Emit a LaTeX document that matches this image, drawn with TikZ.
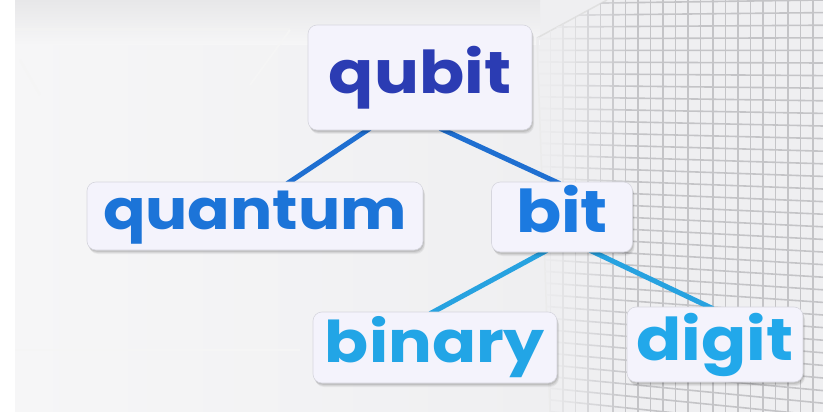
\documentclass[tikz,border=0pt]{standalone}
\usepackage{fontspec}
\newfontfamily\pop{Poppins}[FakeStretch=1.13]

\definecolor{bgbase}{HTML}{EFEFF1}
\definecolor{bgleft}{HTML}{F6F6F7}
\definecolor{bgtop}{HTML}{E7E7E9}
\definecolor{gridline}{HTML}{C4C4C7}
\definecolor{boxfill}{HTML}{F4F3FC}
\definecolor{boxline}{HTML}{D6D6DE}
\definecolor{cQubit}{HTML}{2B3CB3}
\definecolor{cQuantum}{HTML}{1C74D8}
\definecolor{cBit}{HTML}{1C7AE0}
\definecolor{cBinary}{HTML}{22A5E6}
\definecolor{cDigit}{HTML}{22A8EA}
\definecolor{linkTop}{HTML}{1F6FD1}
\definecolor{linkLow}{HTML}{27A2E0}

\pgfdeclarelayer{backdrop}
\pgfdeclarelayer{links}
\pgfsetlayers{backdrop,links,main}

\tikzset{
  wordbox/.style={draw=boxline, line width=0.6pt, fill=boxfill,
    rounded corners=9pt, inner sep=0pt,
    preaction={draw=none, fill=black, fill opacity=0.05,
      transform canvas={shift={(2pt,-4pt)}}},
    preaction={draw=none, fill=black, fill opacity=0.07,
      transform canvas={shift={(1.5pt,-3pt)}}},
    preaction={draw=none, fill=black, fill opacity=0.09,
      transform canvas={shift={(0.8pt,-1.8pt)}}}},
  wordfont/.style={font=\pop\bfseries\fontsize{#1}{#1}\selectfont},
  linktop/.style={draw=linkTop, line width=5pt},
  linklow/.style={draw=linkLow, line width=5pt},
}

\begin{document}
\begin{tikzpicture}[x=1pt,y=-1pt]
\useasboundingbox (0,0) rectangle (823,412);

% ---------- backdrop: a bright room with a gridded wall on the right
\begin{pgfonlayer}{backdrop}
  \fill[white] (0,0) rectangle (823,412);
  \fill[bgbase] (15,0) rectangle (823,412);
  \shade[left color=bgleft, right color=bgbase] (15,40) rectangle (540,412);
  \shade[top color=bgtop, bottom color=bgleft] (15,0) rectangle (540,45);
  % ceiling edges
  \draw[black!5, line width=3pt] (15,30) -- (290,30);
  \draw[black!4, line width=2pt] (20,60) -- (40,95);
  \draw[black!4, line width=2pt] (290,30) -- (250,85);
  \draw[black!4, line width=2pt] (15,350) -- (300,350);
  % wall corner
  \draw[black!12, line width=1.5pt] (537,38) -- (607,0);
  \draw[black!8, line width=1.5pt] (537,38) -- (550,412);
  % perspective grid on the wall, fading in from the corner
  \begin{scope}
    \clip (537,38) -- (607,0) -- (823,0) -- (823,412) -- (550,412) -- cycle;
    \foreach \i in {0,...,23} {
      \pgfmathsetmacro\xa{538+12.5*\i}
      \pgfmathsetmacro\xb{\xa+12.5}
      \pgfmathsetmacro\fa{(\xa+2800)/3623}
      \pgfmathsetmacro\fb{(\xb+2800)/3623}
      \pgfmathsetmacro\p{min(100,max(8,(\xa-538)/90*100))}
      \draw[gridline!\p!bgbase, line width=1.6pt] (\xa,0) -- (\xa,412);
      \foreach \j in {-4,...,36}
        \draw[gridline!\p!bgbase, line width=1.6pt]
          (\xa,{50+(12.6*\j-50)*\fa}) -- (\xb,{50+(12.6*\j-50)*\fb});
    }
  \end{scope}
\end{pgfonlayer}

% ---------- word boxes
\node[wordbox, wordfont=59, text=cQubit, minimum width=224pt, minimum height=105pt]
  (qubit) at (420,77.5) {\vphantom{bq}qubit};
\node[wordbox, wordfont=55.5, text=cQuantum, minimum width=336pt, minimum height=68pt]
  (quantum) at (255,216) {\vphantom{bq}quantum};
\node[wordbox, wordfont=59, text=cBit, minimum width=141pt, minimum height=70pt]
  (bit) at (562,217) {\vphantom{bq}bit};
\node[wordbox, wordfont=57.5, text=cBinary, minimum width=244pt, minimum height=71pt]
  (binary) at (435,347.5) {\vphantom{bq}binary};
\node[wordbox, wordfont=59, text=cDigit, minimum width=176pt, minimum height=75pt]
  (digit) at (715,344.5) {\vphantom{bq}digit};

% ---------- connectors
\begin{pgfonlayer}{links}
  \draw[linktop] ([xshift=-50pt,yshift=2pt]qubit.south) -- ([xshift=32pt,yshift=-2pt]quantum.north);
  \draw[linktop] ([xshift=20pt,yshift=2pt]qubit.south) -- ([xshift=-2pt,yshift=-2pt]bit.north);
  \draw[linklow] ([xshift=-15pt,yshift=2pt]bit.south) -- ([xshift=-5pt,yshift=-2pt]binary.north);
  \draw[linklow] ([xshift=28pt,yshift=2pt]bit.south) -- ([xshift=-2pt,yshift=-2pt]digit.north);
\end{pgfonlayer}
\end{tikzpicture}
\end{document}
